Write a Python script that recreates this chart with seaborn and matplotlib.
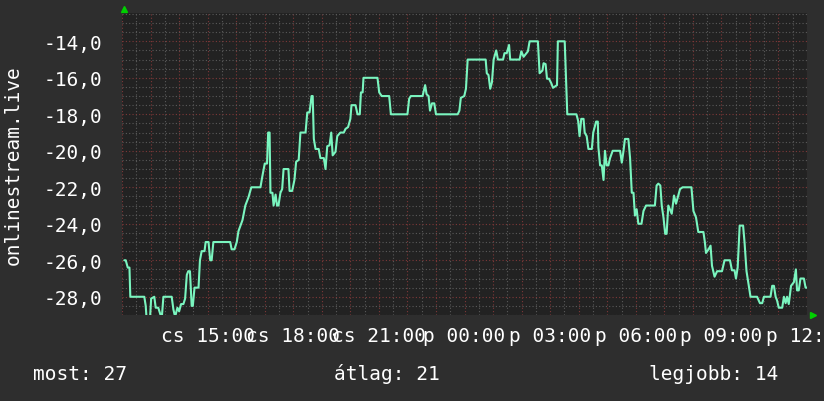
import numpy as np
import pandas as pd
import matplotlib
matplotlib.use("Agg")
import matplotlib.pyplot as plt
import seaborn as sns
from matplotlib.ticker import MultipleLocator, FuncFormatter

# hours since cs 12:00, value (negated listener rank)
hours = [0.08, 0.13, 0.20, 0.26, 0.29, 0.78, 0.83, 0.86, 0.98, 1.02, 1.13, 1.18, 1.27, 1.33, 1.39,
         1.45, 1.74, 1.80, 1.86, 1.94, 2.00, 2.07, 2.15, 2.21, 2.27, 2.32, 2.38, 2.44, 2.48, 2.54,
         2.68, 2.73, 2.79, 2.89, 2.93, 3.03, 3.09, 3.14, 3.20, 3.79, 3.84, 3.94, 4.02, 4.08, 4.22,
         4.32, 4.43, 4.53, 4.85, 4.91, 5.00, 5.08, 5.12, 5.17, 5.20, 5.27, 5.31, 5.38, 5.43, 5.48,
         5.55, 5.61, 5.66, 5.83, 5.87, 5.96, 6.04, 6.10, 6.19, 6.25, 6.43, 6.49, 6.57, 6.64, 6.68,
         6.72, 6.78, 6.89, 6.95, 7.07, 7.13, 7.19, 7.27, 7.33, 7.38, 7.48, 7.54, 7.65, 7.77, 7.83,
         7.92, 8.00, 8.04, 8.18, 8.25, 8.33, 8.37, 8.43, 8.46, 8.95, 9.01, 9.10, 9.36, 9.42, 10.00,
         10.06, 10.12, 10.53, 10.62, 10.67, 10.74, 10.79, 10.86, 10.94, 11.00, 11.76, 11.82, 11.87,
         11.99, 12.05, 12.11, 12.74, 12.78, 12.84, 12.90, 12.96, 13.02, 13.11, 13.17, 13.35, 13.40,
         13.48, 13.56, 13.60, 13.93, 13.99, 14.07, 14.22, 14.28, 14.57, 14.63, 14.73, 14.77, 14.84,
         14.89, 14.96, 15.04, 15.10, 15.24, 15.27, 15.51, 15.57, 15.60, 15.92, 15.98, 16.03, 16.09,
         16.17, 16.21, 16.28, 16.34, 16.46, 16.51, 16.61, 16.67, 16.69, 16.75, 16.81, 16.87, 16.92,
         16.98, 17.04, 17.10, 17.19, 17.45, 17.51, 17.57, 17.62, 17.74, 17.80, 17.86, 17.92, 17.97,
         18.03, 18.09, 18.20, 18.27, 18.36, 18.67, 18.73, 18.79, 18.86, 18.91, 18.97, 19.03, 19.08,
         19.14, 19.26, 19.34, 19.41, 19.49, 19.55, 19.64, 19.95, 20.02, 20.11, 20.19, 20.37, 20.42,
         20.46, 20.55, 20.62, 20.67, 20.76, 20.85, 21.02, 21.11, 21.30, 21.37, 21.46, 21.51, 21.57,
         21.64, 21.76, 21.81, 21.88, 21.96, 22.02, 22.25, 22.35, 22.43, 22.49, 22.72, 22.78, 22.84,
         22.90, 22.95, 23.01, 23.13, 23.19, 23.25, 23.30, 23.36, 23.44, 23.54, 23.61, 23.65, 23.71,
         23.77, 23.89, 23.95, 24.00]
values = [-26.0, -26.0, -26.4, -26.4, -28.0, -28.0, -28.5, -29.2, -29.2, -28.1, -28.0, -28.6, -28.6, -28.9, -29.2,
          -28.0, -28.0, -28.7, -29.1, -28.6, -28.8, -28.4, -28.4, -28.1, -26.8, -26.6, -26.6, -28.5, -28.5, -27.5,
          -27.5, -26.0, -25.5, -25.5, -25.0, -25.0, -26.0, -26.0, -25.0, -25.0, -25.4, -25.4, -25.0, -24.4, -23.8,
          -23.0, -22.55, -22.0, -22.0, -21.45, -20.7, -20.7, -19.0, -19.0, -22.3, -22.3, -23.0, -22.4, -23.0, -23.0,
          -22.3, -22.1, -21.0, -21.0, -22.2, -22.2, -21.6, -20.6, -20.5, -19.0, -19.0, -17.9, -17.9, -17.0, -17.0,
          -19.35, -19.9, -19.9, -20.4, -20.4, -21.0, -19.75, -19.7, -19.0, -20.25, -20.05, -19.2, -19.0, -19.0, -18.8,
          -18.7, -18.25, -17.5, -17.5, -18.0, -18.0, -16.8, -16.8, -16.0, -16.0, -16.8, -17.0, -17.0, -18.0, -18.0,
          -17.15, -17.0, -17.0, -16.4, -16.9, -17.0, -17.8, -17.4, -17.4, -18.0, -18.0, -17.8, -17.1,
          -17.0, -16.6, -15.0, -15.0, -15.75, -15.85, -16.6, -16.25, -15.0, -14.5, -15.0, -15.0, -14.65,
          -14.65, -14.2, -15.0, -15.0, -14.55, -14.85, -14.55, -14.0, -14.0, -15.75, -15.6, -15.2, -15.25,
          -16.05, -16.05, -16.3, -16.55, -16.4, -14.0, -14.0, -16.6, -18.0, -18.0, -18.35, -19.2, -18.25,
          -18.25, -19.0, -19.2, -19.9, -19.9, -19.0, -18.4, -18.4, -19.8, -20.8, -20.8, -21.6, -20.0,
          -20.8, -20.8, -20.4, -20.0, -20.0, -20.65, -20.0, -19.35, -19.35, -20.4, -22.3, -22.3, -23.55,
          -23.2, -24.0, -24.0, -23.3, -23.0, -23.0, -21.9, -21.8, -21.9, -23.0, -23.65, -24.55, -24.55,
          -23.0, -23.45, -22.45, -22.9, -22.45, -22.1, -22.0, -22.0, -23.3, -23.65, -24.45, -24.45, -25.0,
          -25.6, -25.4, -25.2, -26.3, -26.9, -26.6, -26.6, -26.0, -26.0, -26.55, -26.55, -27.0, -26.4,
          -24.1, -24.1, -25.0, -26.6, -27.4, -28.0, -28.0, -28.35, -28.35, -28.0, -28.0, -27.4, -27.4,
          -28.0, -28.2, -28.6, -28.6, -28.0, -28.35, -28.0, -28.4, -27.4, -27.2, -26.5, -27.65, -27.65,
          -27.0, -27.0, -27.5, -27.5]

x_tick_hours = [3, 6, 9, 12, 15, 18, 21, 24]
x_tick_labels = ["cs 15:00", "cs 18:00", "cs 21:00", "p 00:00", "p 03:00",
                 "p 06:00", "p 09:00", "p 12:00"]
legend_items = [("most: 27", 0.040), ("átlag: 21", 0.405), ("legjobb: 14", 0.788)]
source_label = "onlinestream.live"

df = pd.DataFrame({"hour": hours, "value": values})

sns.set_style("dark")
plt.rcParams["font.family"] = ["DejaVu Sans Mono", "DejaVu Sans"]

fig_bg = "#2e2e2e"
plot_bg = "#222222"
fg = "#ffffff"

fig = plt.figure(figsize=(8.24, 4.02), dpi=100, facecolor=fig_bg)
ax = fig.add_axes([0.1481, 0.2139, 0.8313, 0.7512])
ax.set_facecolor(plot_bg)

sns.lineplot(data=df, x="hour", y="value", ax=ax, color="#7af5bf", lw=1.5,
             sort=False, estimator=None, zorder=3)

ax.set_xlim(0, 24)
ax.set_ylim(-29.0, -12.45)

# grid: red every hour / 2 units, grey every 30 min / 0.5 units
ax.xaxis.set_major_locator(MultipleLocator(1))
ax.xaxis.set_minor_locator(MultipleLocator(0.5))
ax.yaxis.set_major_locator(MultipleLocator(2))
ax.yaxis.set_minor_locator(MultipleLocator(0.5))
ax.grid(which="minor", color="#5a5a5a", ls=(0, (1, 2)), lw=0.8, zorder=0)
ax.grid(which="major", color="#7e3838", ls=(0, (1, 2)), lw=0.8, zorder=1)

lab_map = dict(zip(x_tick_hours, x_tick_labels))
ax.xaxis.set_major_formatter(FuncFormatter(lambda v, p: lab_map.get(int(round(v)), "")))
ax.yaxis.set_major_formatter(FuncFormatter(lambda v, p: f"{v:.1f}".replace(".", ",")))

ax.tick_params(axis="x", which="major", length=3, color="#8a3a3a", labelsize=14,
               labelcolor=fg, pad=5)
ax.tick_params(axis="y", which="major", length=0, labelsize=14, labelcolor=fg, pad=14)
ax.tick_params(which="minor", length=0)
for s in ax.spines.values():
    s.set_visible(False)
ax.set_xlabel("")
ax.set_ylabel("")

# rrdtool style axis arrows
ax.plot([0.003], [1.012], marker="^", color="#00d000", ms=5, transform=ax.transAxes, clip_on=False)
ax.plot([1.008], [0.0], marker=">", color="#00d000", ms=5, transform=ax.transAxes, clip_on=False)

fig.text(0.016, 0.59, source_label, rotation=90, ha="center", va="center",
         color=fg, fontsize=14)
for txt, xpos in legend_items:
    fig.text(xpos, 0.069, txt, ha="left", va="center", color=fg, fontsize=14)

fig.savefig("out.png", dpi=100, facecolor=fig_bg)
